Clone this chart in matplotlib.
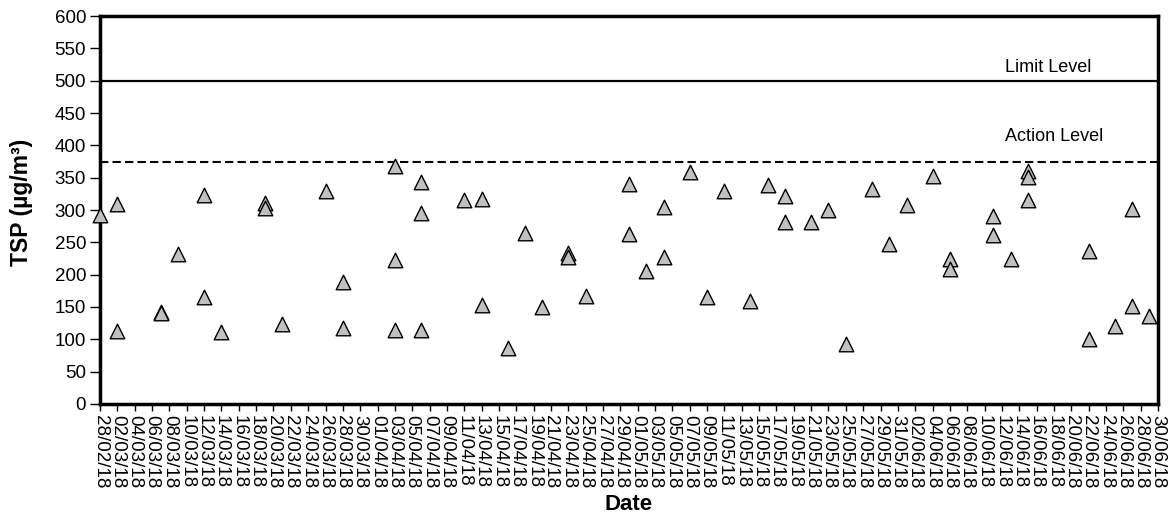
import numpy as np
import pandas as pd
import matplotlib
matplotlib.use("Agg")
import matplotlib.pyplot as plt

plt.rcParams['font.family'] = ['Liberation Sans', 'DejaVu Sans']

# datos TSP
fechas = ["28/02/18", "02/03/18", "02/03/18", "07/03/18", "07/03/18", "09/03/18",
          "12/03/18", "12/03/18", "14/03/18", "19/03/18", "19/03/18", "21/03/18",
          "26/03/18", "28/03/18", "28/03/18", "03/04/18", "03/04/18", "03/04/18",
          "06/04/18", "06/04/18", "06/04/18", "11/04/18", "13/04/18", "13/04/18",
          "16/04/18", "18/04/18", "20/04/18", "23/04/18", "23/04/18", "25/04/18",
          "30/04/18", "30/04/18", "02/05/18", "04/05/18", "04/05/18", "07/05/18",
          "09/05/18", "11/05/18", "14/05/18", "16/05/18", "18/05/18", "18/05/18",
          "21/05/18", "23/05/18", "25/05/18", "28/05/18", "30/05/18", "01/06/18",
          "04/06/18", "06/06/18", "06/06/18", "11/06/18", "11/06/18", "13/06/18",
          "15/06/18", "15/06/18", "15/06/18", "22/06/18", "22/06/18", "25/06/18",
          "27/06/18", "27/06/18", "29/06/18"]
tsp = [293, 309, 113, 143, 140, 232,
       323, 166, 111, 311, 303, 124,
       330, 188, 117, 368, 223, 114,
       344, 296, 114, 315, 317, 153,
       87, 265, 150, 233, 228, 167,
       340, 263, 206, 304, 228, 359,
       165, 330, 160, 339, 321, 282,
       282, 300, 92, 333, 247, 308,
       353, 224, 208, 291, 261, 224,
       361, 351, 315, 236, 100, 121,
       301, 152, 136]
limite = 500
accion = 375

x = pd.to_datetime(fechas, format="%d/%m/%y")
inicio = pd.Timestamp("2018-02-28")
fin = pd.Timestamp("2018-06-30")

fig = plt.figure(figsize=(11.74, 5.17), dpi=100)
ax = fig.add_axes([0.0852, 0.2186, 0.9012, 0.7504])

ax.axhline(limite, color="black", lw=1.6, zorder=2)
ax.axhline(accion, color="black", lw=1.5, ls=(0, (4, 2)), zorder=2)
ax.scatter(x, tsp, marker="^", s=110, facecolor="#c0c0c0", edgecolor="black",
           linewidth=1, zorder=5, clip_on=False)

pos_txt = inicio + pd.Timedelta(days=104.3)
ax.text(pos_txt, 520, "Limit Level", fontsize=13, va="center")
ax.text(pos_txt, 414, "Action Level", fontsize=13, va="center")

ax.set_xlim(inicio, fin)
ax.set_ylim(0, 600)
ax.set_yticks(np.arange(0, 601, 50))
ticks = pd.date_range(inicio, fin, freq="2D")
ax.set_xticks(ticks)
ax.set_xticklabels([t.strftime("%d/%m/%y") for t in ticks], rotation=270, fontsize=13.5)
ax.tick_params(axis="y", labelsize=13.5, length=7, width=1, direction="out", pad=3)
ax.tick_params(axis="x", length=5, width=1, direction="out", pad=3)

for s in ax.spines.values():
    s.set_linewidth(2.5)

ax.set_ylabel("TSP (µg/m³)", fontsize=16.5, fontweight="bold")
ax.set_xlabel("Date", fontsize=16, fontweight="bold")
ax.yaxis.set_label_coords(-0.063, 0.52)
ax.xaxis.set_label_coords(0.5, -0.232)

fig.savefig("out.png", dpi=100)
